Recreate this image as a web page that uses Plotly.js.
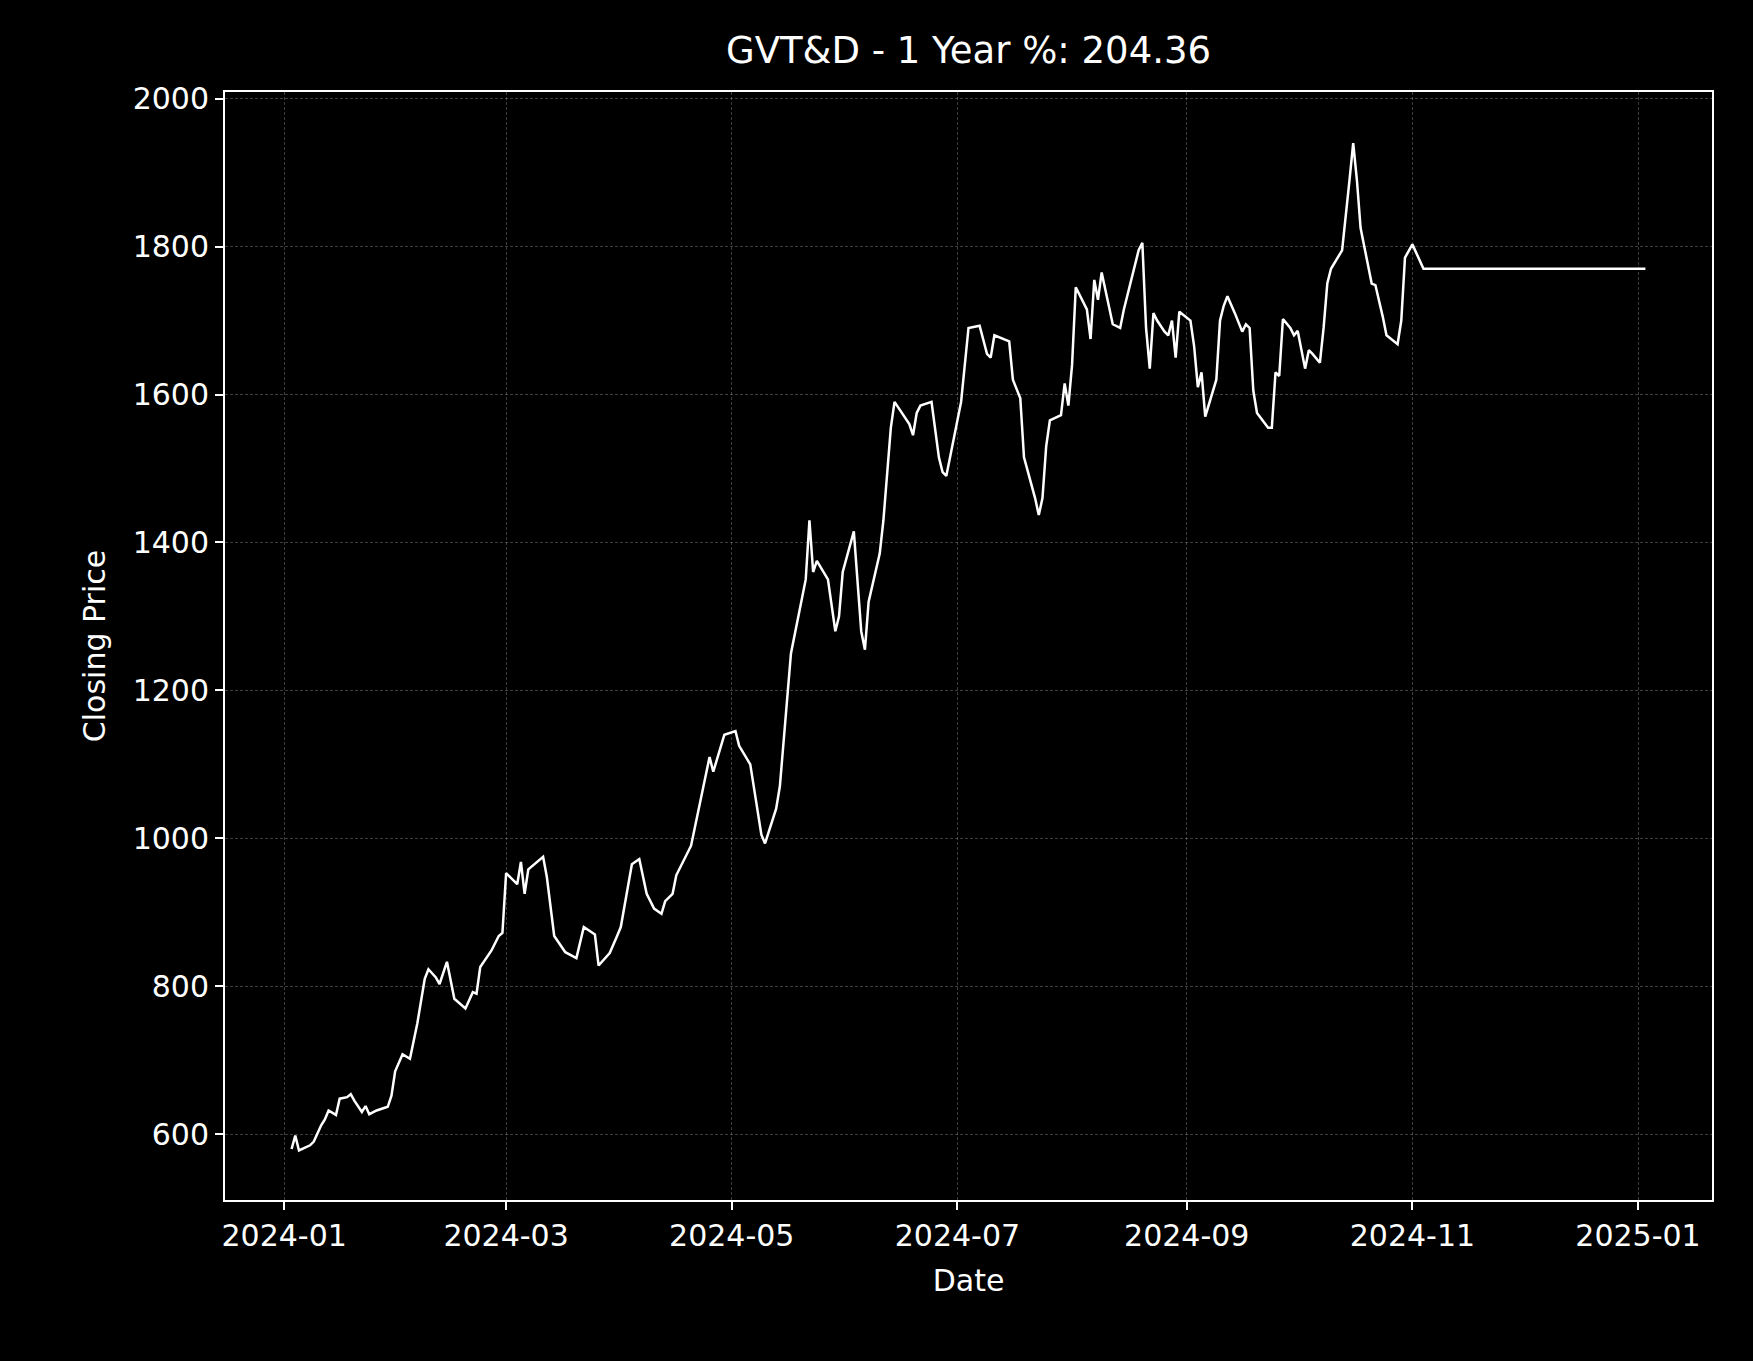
<!DOCTYPE html>
<html>
<head>
<meta charset="utf-8">
<script src="https://cdn.plot.ly/plotly-3.0.1.min.js"></script>
<style>
  html, body { margin: 0; padding: 0; background: #000; }
  #chart { width: 1753px; height: 1361px; }
</style>
</head>
<body>
<div id="chart"></div>
<script>
// trading days, counted from 2024-01-01
const dayOffsets = [
  2, 3, 4, 7, 8, 10, 11, 12, 14, 15, 17, 18, 19, 21, 22, 23, 25, 28, 29, 30,
  32, 34, 36, 38, 39, 41, 42, 44, 46, 48, 49, 51, 52, 53, 56, 58, 59, 60,
  63, 64, 65, 66, 70, 71, 73, 76, 79, 81, 84, 85, 88, 90, 91, 94, 96, 98,
  100, 102, 103, 105, 106, 110, 114, 115, 116, 119, 122, 123, 126, 129, 130,
  133, 134, 137, 141, 142, 143, 144, 147, 149, 150, 151, 154, 156, 157, 158,
  161, 162, 164, 165, 169, 170, 171, 172, 175, 177, 178, 179, 183, 185, 188,
  190, 191, 192, 196, 197, 199, 200, 203, 204, 205, 206, 207, 210, 211, 212,
  213, 214, 217, 218, 219, 220, 221, 223, 224, 226, 227, 231, 232, 233, 234,
  235, 236, 238, 239, 240, 241, 242, 245, 246, 247, 248, 249, 252, 253, 254,
  255, 257, 259, 260, 261, 262, 263, 266, 267, 268, 269, 270, 272, 273, 274,
  276, 277, 278, 280, 281, 282, 283, 286, 288, 289, 290, 291, 294, 295, 297,
  298, 301, 302, 303, 305, 308, 368
];
const closes = [
  580, 598, 578, 585, 590, 612, 620, 632, 626, 648, 650, 654, 645, 630, 638, 627, 632, 637, 652, 685,
  708, 702, 750, 810, 823, 812, 803, 833, 783, 775, 770, 792, 790, 826, 848, 868, 872, 953,
  938, 968, 925, 958, 975, 948, 868, 846, 838, 880, 870, 828, 845, 868, 880, 965, 972, 925,
  905, 898, 915, 925, 950, 990, 1085, 1110, 1090, 1140, 1145, 1125, 1100, 1005, 993,
  1040, 1070, 1250, 1350, 1430, 1360, 1375, 1350, 1280, 1300, 1360, 1415, 1280, 1255, 1320,
  1385, 1430, 1555, 1590, 1560, 1545, 1575, 1585, 1590, 1515, 1495, 1490, 1590, 1690, 1693,
  1655, 1650, 1680, 1672, 1620, 1595, 1515, 1460, 1437, 1460, 1530, 1565, 1572, 1615, 1585,
  1640, 1745, 1715, 1675, 1755, 1728, 1765, 1715, 1695, 1690, 1715, 1795, 1805, 1690, 1635,
  1710, 1700, 1685, 1680, 1700, 1650, 1712, 1700, 1665, 1610, 1630, 1570, 1620, 1700, 1720,
  1733, 1710, 1685, 1695, 1690, 1605, 1575, 1555, 1555, 1630, 1625, 1702, 1690, 1680, 1686,
  1635, 1660, 1655, 1643, 1690, 1750, 1770, 1795, 1890, 1940, 1890, 1825, 1750, 1748, 1705,
  1680, 1668, 1700, 1785, 1803, 1770, 1770
];
const ticker = 'GVT&D';
const yearPct = '204.36';

const dates = dayOffsets.map(d => {
  const t = new Date(Date.UTC(2024, 0, 1 + d));
  return t.toISOString().slice(0, 10);
});

const font = 'DejaVu Sans, sans-serif';

const axisCommon = {
  showline: true,
  linecolor: '#ffffff',
  linewidth: 2,
  mirror: true,
  ticks: 'outside',
  ticklen: 8,
  tickwidth: 2,
  tickcolor: '#ffffff',
  tickfont: { family: font, size: 30, color: '#ffffff' },
  showgrid: true,
  gridcolor: 'rgba(255,255,255,0.3)',
  gridwidth: 0.8,
  griddash: '3px,2px',
  zeroline: false
};

Plotly.newPlot('chart', [{
  x: dates,
  y: closes,
  type: 'scatter',
  mode: 'lines',
  line: { color: '#ffffff', width: 2.5 }
}], {
  width: 1753,
  height: 1361,
  paper_bgcolor: '#000000',
  plot_bgcolor: '#000000',
  margin: { l: 225, r: 41, t: 92, b: 161 },
  showlegend: false,
  title: {
    text: ticker + ' - 1 Year %: ' + yearPct,
    font: { family: font, size: 37, color: '#ffffff' },
    x: 0.5, xref: 'paper', xanchor: 'center', y: 0.963, yanchor: 'middle'
  },
  xaxis: Object.assign({}, axisCommon, {
    type: 'date',
    range: ['2023-12-16', '2025-01-21'],
    tick0: '2024-01-01',
    dtick: 'M2',
    tickformat: '%Y-%m',
    title: { text: 'Date', font: { family: font, size: 30, color: '#ffffff' }, standoff: 18 }
  }),
  yaxis: Object.assign({}, axisCommon, {
    range: [511, 2009],
    tick0: 0,
    dtick: 200,
    title: { text: 'Closing Price', font: { family: font, size: 30, color: '#ffffff' }, standoff: 18 }
  })
}, { displayModeBar: false, staticPlot: true });
</script>
</body>
</html>
